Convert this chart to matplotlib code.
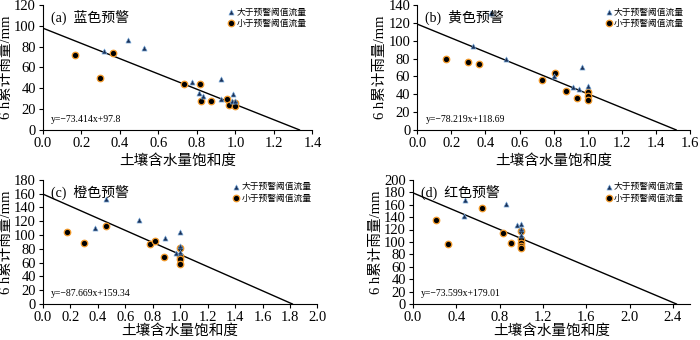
import numpy as np
import matplotlib.pyplot as plt

plt.rcParams['font.family'] = ['Liberation Serif', 'Noto Sans CJK SC', 'DejaVu Sans']
plt.rcParams['axes.unicode_minus'] = True

# (a) 蓝色预警
a_tri_x = [0.316, 0.44, 0.524, 0.772, 0.81, 0.83, 0.926, 0.926, 0.985, 0.98, 1.0]
a_tri_y = [76, 86, 79, 46, 35.5, 33, 49, 30, 34.5, 28, 28]
a_cir_x = [0.168, 0.298, 0.364, 0.735, 0.817, 0.82, 0.874, 0.956, 0.968, 1.0, 1.0]
a_cir_y = [72, 50, 73.6, 44.5, 44, 27.5, 27.5, 30, 23.7, 26, 23]

# (b) 黄色预警
b_tri_x = [0.433, 0.328, 0.519, 0.80, 0.911, 0.95, 0.964, 1.0]
b_tri_y = [131, 94, 79, 60.5, 48, 46, 71, 49]
b_cir_x = [0.17, 0.30, 0.361, 0.732, 0.81, 0.872, 0.939, 1.0, 1.0, 1.0]
b_cir_y = [79.5, 76, 73.5, 55.6, 63.5, 43.3, 35.5, 42, 38.5, 33.6]

# (c) 橙色预警
c_tri_x = [0.457, 0.382, 0.703, 0.893, 0.973, 1.0, 1.0, 1.0]
c_tri_y = [152.6, 110, 122, 95, 74.4, 103.7, 84, 75]
c_cir_x = [0.175, 0.30, 0.462, 0.781, 0.813, 0.883, 1.0, 1.0, 1.0, 1.0]
c_cir_y = [104.6, 88.8, 113.8, 86.4, 91.7, 68.6, 80.6, 69.6, 64.8, 57.6]

# (d) 红色预警
d_tri_x = [0.483, 0.468, 0.862, 0.96, 1.0, 1.0, 1.0]
d_tri_y = [168, 142.4, 160.5, 127, 129.6, 121.6, 110.4]
d_cir_x = [0.209, 0.323, 0.64, 0.828, 0.905, 1.0, 1.0, 1.0, 1.0, 1.0]
d_cir_y = [135, 97, 154, 114.7, 97.6, 117.3, 104, 98.7, 93.3, 90]

slopes = [-73.414, -78.219, -87.669, -73.599]
intercepts = [97.8, 118.69, 159.34, 179.01]
eq_labels = ['y=−73.414x+97.8', 'y=−78.219x+118.69', 'y=−87.669x+159.34', 'y=−73.599x+179.01']
titles = ['(a)  蓝色预警', '(b)  黄色预警', '(c)  橙色预警', '(d)  红色预警']

panels = [
    (a_tri_x, a_tri_y, a_cir_x, a_cir_y, [0.0614, 0.618, 0.385, 0.367], 1.4, 0.2, 120, 20),
    (b_tri_x, b_tri_y, b_cir_x, b_cir_y, [0.596, 0.618, 0.390, 0.367], 1.6, 0.2, 140, 20),
    (c_tri_x, c_tri_y, c_cir_x, c_cir_y, [0.0614, 0.106, 0.392, 0.365], 2.0, 0.2, 180, 20),
    (d_tri_x, d_tri_y, d_cir_x, d_cir_y, [0.590, 0.106, 0.396, 0.365], 2.56, 0.4, 200, 20),
]

fig = plt.figure(figsize=(7, 3.4), dpi=100)

for i, (tx, ty, cx, cy, pos, xmax, xstep, ymax, ystep) in enumerate(panels):
    ax = fig.add_axes(pos)
    x0 = -intercepts[i] / slopes[i]
    xs = np.array([0, x0])
    ax.plot(xs, slopes[i] * xs + intercepts[i], color='black', lw=1.0, zorder=1)
    ax.scatter(tx, ty, marker='^', s=13, color='#1a2f55', edgecolors='#6f9fd0',
               linewidths=0.5, zorder=3, label='大于预警阈值流量')
    ax.scatter(cx, cy, marker='o', s=22, color='black', edgecolors='#f39a2a',
               linewidths=0.9, zorder=2, label='小于预警阈值流量')
    ax.set_xlim(0, xmax)
    ax.set_ylim(0, ymax)
    ticks = np.arange(0, xmax + 1e-6, xstep)
    ax.set_xticks(ticks)
    ax.set_xticklabels(['%.1f' % v for v in ticks])
    ax.set_yticks(np.arange(0, ymax + 1, ystep))
    for s in ['top', 'right']:
        ax.spines[s].set_visible(False)
    ax.tick_params(labelsize=10.5, length=3, width=0.8, pad=2)
    ax.set_xlabel('土壤含水量饱和度', fontsize=10.5, labelpad=3 if i < 2 else 0)
    ax.set_ylabel('6 h累计雨量/mm', fontsize=10.5, labelpad=1)
    ax.text(0.03, 0.96, titles[i], transform=ax.transAxes, fontsize=10, va='top', ha='left')
    ax.text(0.03, 0.05, eq_labels[i], transform=ax.transAxes, fontsize=7,
            va='bottom', ha='left')
    ax.legend(loc='upper right', bbox_to_anchor=(1.0, 1.03), frameon=False,
              handletextpad=0.1, borderpad=0.2, labelspacing=0.25, handlelength=1.0,
              prop={'family': ['Noto Sans CJK SC'], 'size': 6.3})

fig.savefig('out.png', dpi=100)
